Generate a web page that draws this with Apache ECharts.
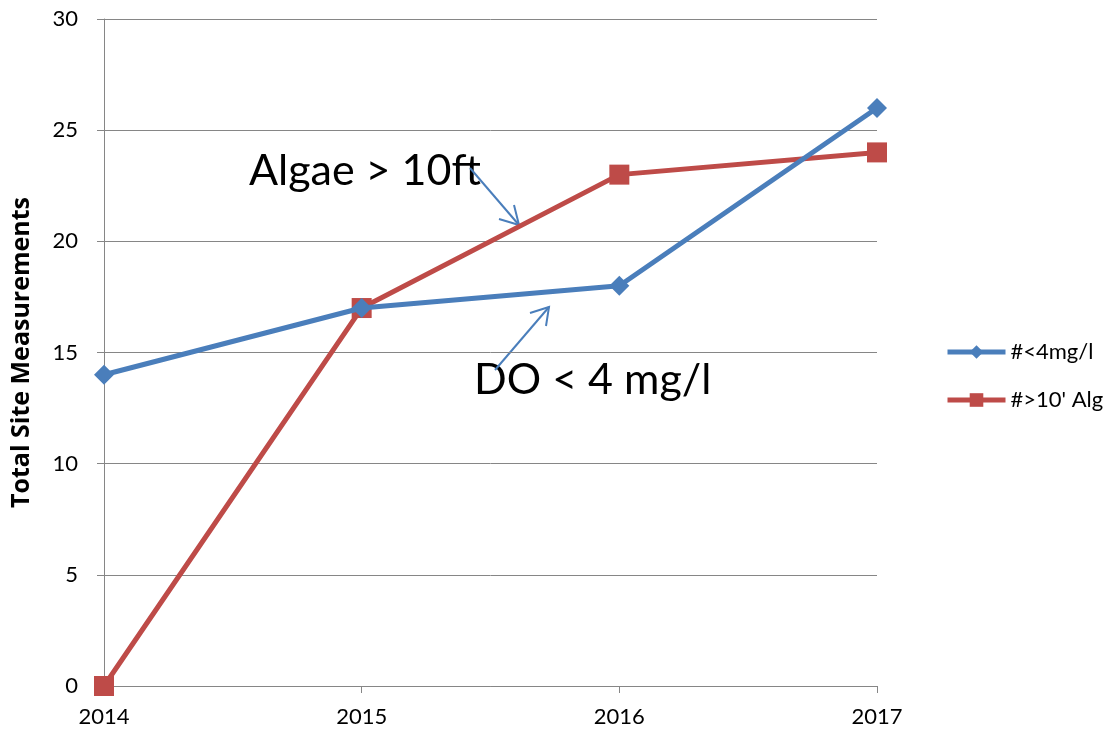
<!DOCTYPE html>
<html>
<head>
<meta charset="utf-8">
<script src="https://cdn.jsdelivr.net/npm/echarts@6/dist/echarts.min.js"></script>
<style>
  html, body { margin: 0; padding: 0; background: #fff; }
  #main { width: 1105px; height: 734px; }
</style>
</head>
<body>
<div id="main"></div>
<script>
const years = ['2014', '2015', '2016', '2017'];
const lowDO = [14, 17, 18, 26];
const algae = [0, 17, 23, 24];
const seriesNames = ['#<4mg/l', "#>10' Alg"];

const font = 'Lato, "Liberation Sans", sans-serif';
const blue = '#4a7ebb';
const red = '#be4b48';

let myChart = echarts.init(document.getElementById('main'));

let option = {
  animation: false,
  textStyle: { fontFamily: font },
  grid: {
    left: 104,
    right: 228,
    top: 19,
    bottom: 48,
    outerBoundsMode: 'none'
  },
  legend: {
    orient: 'vertical',
    left: 940,
    top: 336,
    itemWidth: 58,
    itemHeight: 17,
    itemGap: 26,
    lineStyle: { width: 5 },
    textStyle: { fontSize: 22, color: '#000', fontFamily: font },
    data: seriesNames
  },
  xAxis: {
    type: 'category',
    data: years,
    boundaryGap: false,
    axisLine: { lineStyle: { color: '#868686', width: 1 } },
    axisTick: { show: true, length: 7, lineStyle: { color: '#868686' } },
    axisLabel: { color: '#000', fontSize: 22, margin: 20, fontFamily: font },
    splitLine: { show: false }
  },
  yAxis: {
    type: 'value',
    min: 0,
    max: 30,
    interval: 5,
    name: 'Total Site Measurements',
    nameLocation: 'middle',
    nameGap: 70,
    nameTextStyle: { fontSize: 25, fontWeight: 'bold', color: '#000', fontFamily: '"Open Sans", sans-serif' },
    axisLine: { show: true, lineStyle: { color: '#868686', width: 1 } },
    axisTick: { show: true, length: 7, lineStyle: { color: '#868686' } },
    axisLabel: { color: '#000', fontSize: 22, margin: 26, fontFamily: font },
    splitLine: { show: true, lineStyle: { color: '#868686', width: 1 } }
  },
  series: [{
      name: seriesNames[0],
      type: 'line',
      data: lowDO,
      symbol: 'diamond',
      symbolSize: 20,
      lineStyle: { color: blue, width: 5 },
      itemStyle: { color: blue },
      z: 3
    },
    {
      name: seriesNames[1],
      type: 'line',
      data: algae,
      symbol: 'rect',
      symbolSize: 20,
      lineStyle: { color: red, width: 5 },
      itemStyle: { color: red },
      z: 2
    }
  ],
  // callout texts and arrows
  graphic: [{
      type: 'text',
      left: 249,
      top: 150,
      style: { text: 'Algae > 10ft', fontSize: 43, fill: '#000', fontFamily: font }
    },
    {
      type: 'text',
      left: 474,
      top: 359,
      style: { text: 'DO < 4 mg/l', fontSize: 43, fill: '#000', fontFamily: font }
    },
    {
      type: 'polyline',
      shape: { points: [[470, 168], [519, 225]] },
      style: { stroke: blue, lineWidth: 2, fill: null }
    },
    {
      type: 'polyline',
      shape: { points: [[499, 219], [519, 225], [514, 205]] },
      style: { stroke: blue, lineWidth: 2, fill: null }
    },
    {
      type: 'polyline',
      shape: { points: [[495, 370], [549, 307]] },
      style: { stroke: blue, lineWidth: 2, fill: null }
    },
    {
      type: 'polyline',
      shape: { points: [[530, 313], [549, 307], [546, 326]] },
      style: { stroke: blue, lineWidth: 2, fill: null }
    }
  ]
};
myChart.setOption(option);
</script>
</body>
</html>
